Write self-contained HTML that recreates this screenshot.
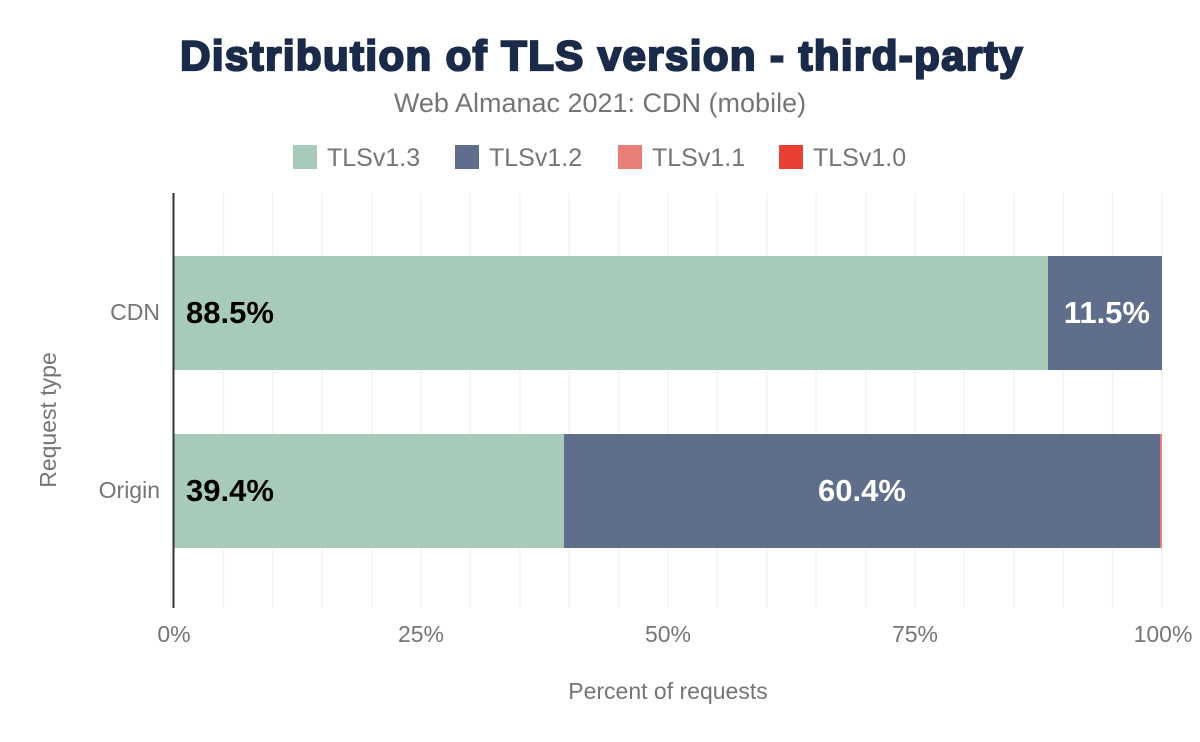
<!DOCTYPE html>
<html><head><meta charset="utf-8"><style>
html,body{margin:0;padding:0;background:#fff;}
svg{display:block;font-family:"Liberation Sans",sans-serif;}
</style></head><body>
<svg width="1200" height="742" viewBox="0 0 1200 742">
<text x="602" y="70" text-anchor="middle" font-size="42" font-weight="900" fill="#1a2b49" style="letter-spacing:1.4px" stroke="#1a2b49" stroke-width="2.2">Distribution of TLS version - third-party</text>
<text x="600" y="112" text-anchor="middle" font-size="27" fill="#757575">Web Almanac 2021: CDN (mobile)</text>
<g font-size="25" fill="#757575">
<rect x="293" y="145" width="24" height="24" fill="#a8cbb9"/><text x="327" y="166">TLSv1.3</text>
<rect x="455" y="145" width="24" height="24" fill="#5f6f8b"/><text x="489" y="166">TLSv1.2</text>
<rect x="618" y="145" width="24" height="24" fill="#e77f78"/><text x="652" y="166">TLSv1.1</text>
<rect x="779" y="145" width="24" height="24" fill="#e64134"/><text x="813" y="166">TLSv1.0</text>
</g>
<g stroke="#f3f3f3" stroke-width="1.5">
<line x1="223.4" y1="193" x2="223.4" y2="608"/><line x1="272.8" y1="193" x2="272.8" y2="608"/><line x1="322.2" y1="193" x2="322.2" y2="608"/><line x1="371.6" y1="193" x2="371.6" y2="608"/><line x1="421" y1="193" x2="421" y2="608"/><line x1="470.4" y1="193" x2="470.4" y2="608"/><line x1="519.8" y1="193" x2="519.8" y2="608"/><line x1="569.2" y1="193" x2="569.2" y2="608"/><line x1="618.6" y1="193" x2="618.6" y2="608"/><line x1="668" y1="193" x2="668" y2="608"/><line x1="717.4" y1="193" x2="717.4" y2="608"/><line x1="766.8" y1="193" x2="766.8" y2="608"/><line x1="816.2" y1="193" x2="816.2" y2="608"/><line x1="865.6" y1="193" x2="865.6" y2="608"/><line x1="915" y1="193" x2="915" y2="608"/><line x1="964.4" y1="193" x2="964.4" y2="608"/><line x1="1013.8" y1="193" x2="1013.8" y2="608"/><line x1="1063.2" y1="193" x2="1063.2" y2="608"/><line x1="1112.6" y1="193" x2="1112.6" y2="608"/><line x1="1162" y1="193" x2="1162" y2="608"/>
</g>
<rect x="174" y="256" width="874" height="114" fill="#a8cbb9"/>
<rect x="1048" y="256" width="114" height="114" fill="#5f6f8b"/>
<rect x="174" y="434" width="390" height="114" fill="#a8cbb9"/>
<rect x="564" y="434" width="596" height="114" fill="#5f6f8b"/>
<rect x="1160" y="434" width="2" height="114" fill="#e77f78"/>
<line x1="173.5" y1="193" x2="173.5" y2="608" stroke="#333" stroke-width="2"/>
<g font-size="31" font-weight="bold">
<text x="186" y="323" fill="#000">88.5%</text>
<text x="1150" y="323" fill="#fff" text-anchor="end">11.5%</text>
<text x="186" y="501" fill="#000">39.4%</text>
<text x="862" y="501" fill="#fff" text-anchor="middle">60.4%</text>
</g>
<g font-size="23" fill="#757575">
<text x="160" y="320" text-anchor="end">CDN</text>
<text x="160" y="498" text-anchor="end">Origin</text>
<text x="174" y="642" text-anchor="middle">0%</text>
<text x="421" y="642" text-anchor="middle">25%</text>
<text x="668" y="642" text-anchor="middle">50%</text>
<text x="915" y="642" text-anchor="middle">75%</text>
<text x="1163" y="642" text-anchor="middle">100%</text>
<text x="668" y="699" text-anchor="middle">Percent of requests</text>
<text transform="translate(56,420) rotate(-90)" text-anchor="middle">Request type</text>
</g>
</svg>
</body></html>
